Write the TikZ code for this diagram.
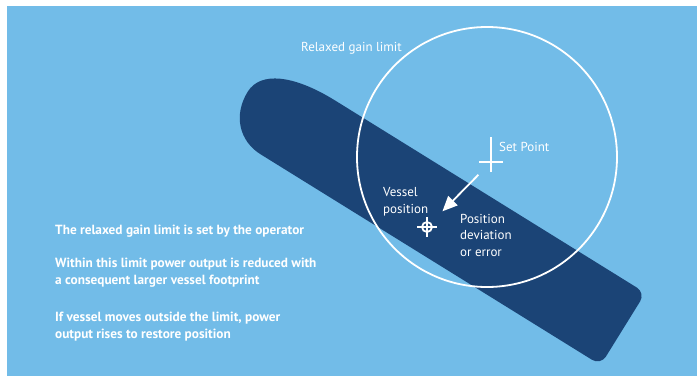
\documentclass[tikz,border=0pt]{standalone}
\usepackage{fontspec}
\setmainfont{PT Sans}
\usetikzlibrary{arrows.meta}
\definecolor{sky}{HTML}{72BCE8}
\definecolor{hull}{HTML}{1B4476}
\begin{document}
\begin{tikzpicture}[x=1pt,y=1pt,
  lbl/.style={text=white,inner sep=0pt,anchor=base west,align=left,
    font=\fontsize{13}{16.5}\selectfont},
  note/.style={lbl,font=\fontsize{13.3}{16.5}\selectfont\bfseries},
  whiteline/.style={draw=white,line width=1.8pt}]
  \useasboundingbox (0,0) rectangle (697,376);

  % background
  \fill[sky] (7,0) rectangle (697,370);

  % hull
  \begin{scope}[shift={(623,47)},rotate=-31.8]
    \fill[hull] (-400,-42.5) -- (-10,-42.5)
      arc[start angle=-90,end angle=0,radius=10] -- (0,32.5)
      arc[start angle=0,end angle=90,radius=10] -- (-365,42.5)
      .. controls (-414,42.5) and (-444,28) .. (-444,4)
      .. controls (-444,-24) and (-425,-42.5) .. (-400,-42.5) -- cycle;
  \end{scope}

  % relaxed gain limit
  \coordinate (limit) at (487,219);
  \draw[whiteline] (limit) circle (130);

  % set point and vessel position
  \coordinate (setpt) at (491,214);
  \coordinate (vessel) at (427,149);
  \draw[whiteline,line width=1.5pt] ([yshift=-10pt]setpt) -- ([yshift=25pt]setpt);
  \draw[whiteline,line width=1.5pt] ([xshift=-12pt]setpt) -- ([xshift=12pt]setpt);
  \draw[whiteline] (vessel) circle (5);
  \draw[whiteline] ([xshift=-10pt]vessel) -- ([xshift=10pt]vessel);
  \draw[whiteline] ([yshift=-10pt]vessel) -- ([yshift=10pt]vessel);
  \draw[whiteline,-{Triangle[length=15pt,width=13pt]},
    shorten <=18pt,shorten >=22pt] (setpt) -- (vessel);

  % labels (base = last line)
  \node[lbl] (limitlbl) at (301,325) {Relaxed gain limit};
  \node[lbl] (setlbl) at (499,225) {Set Point};
  \node[lbl] (vessellbl) at (383,163) {Vessel\\position};
  \node[lbl] (devlbl) at (460,120) {Position\\deviation\\or error};

  % notes
  \node[note] (note1) at (55,142) {The relaxed gain limit is set by the operator};
  \node[note] (note2) at (55,92) {Within this limit power output is reduced with\\a consequent larger vessel footprint};
  \node[note] (note3) at (55,38) {If vessel moves outside the limit, power\\output rises to restore position};
\end{tikzpicture}
\end{document}
